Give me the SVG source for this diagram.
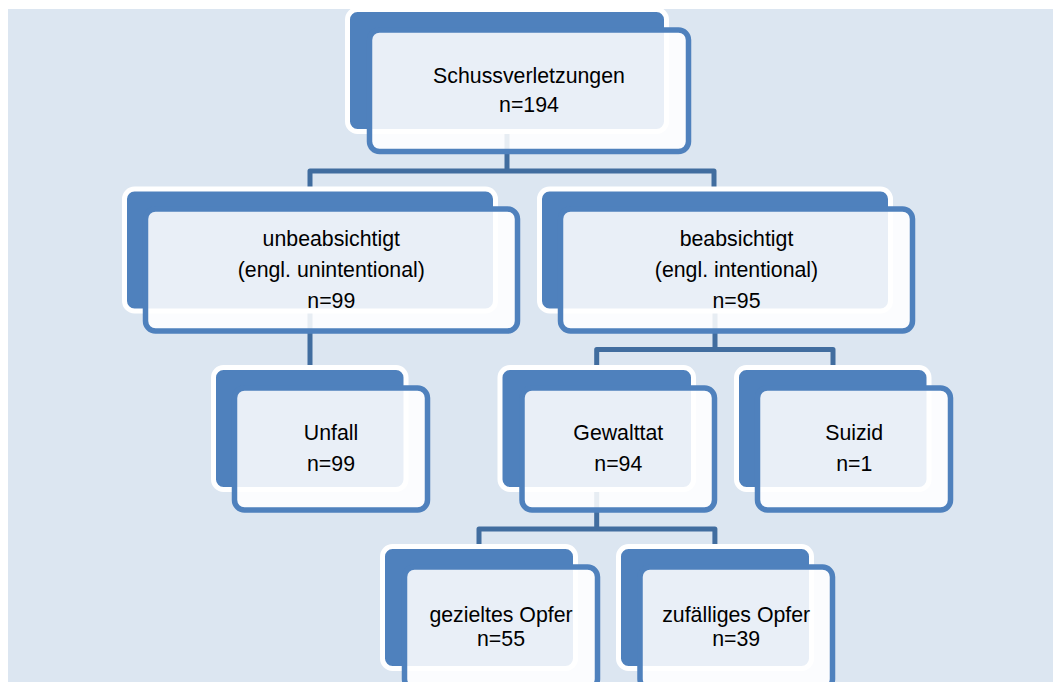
<svg xmlns="http://www.w3.org/2000/svg" width="1053" height="682" viewBox="0 0 1053 682">
<style>
.back{fill:#4f81bd;stroke:#ffffff;stroke-width:5}
.front{fill:#ffffff;fill-opacity:0.875;stroke:#4f81bd;stroke-width:5.5}
.t{font-family:"Liberation Sans",Arial,sans-serif;font-size:21.3px;fill:#000000;text-anchor:middle}
.con{fill:none;stroke:#416d9f;stroke-width:5;stroke-linejoin:round}
</style>
<rect x="0" y="0" width="1053" height="682" fill="#ffffff"/>
<rect x="8" y="9" width="1045" height="673" fill="#dce6f1"/>
<g id="connectors">
<path class="con" d="M507,131 V171 M310,190 V171 H714 V190"/>
<path class="con" d="M310,311 V368"/>
<path class="con" d="M715,311 V349.5 M596.7,368 V349.5 H833 V368"/>
<path class="con" d="M596.7,489 V529 M479,547 V529 H714.9 V547"/>
</g>
<g id="n1">
<rect class="back" x="347.5" y="9.5" width="319" height="122" rx="10"/>
<rect class="front" x="369.5" y="30" width="319" height="121.5" rx="10"/>
<text class="t" x="529" y="82.7">Schussverletzungen</text>
<text class="t" x="529" y="112.3">n=194</text>
</g>
<g id="n2">
<rect class="back" x="124.5" y="189" width="371" height="122" rx="10"/>
<rect class="front" x="145.5" y="209" width="372" height="122" rx="10"/>
<text class="t" x="331.3" y="245.7">unbeabsichtigt</text>
<text class="t" x="331.3" y="276.7">(engl. unintentional)</text>
<text class="t" x="331.3" y="307.7">n=99</text>
</g>
<g id="n3">
<rect class="back" x="539.5" y="189" width="351" height="122" rx="10"/>
<rect class="front" x="560.5" y="209" width="352" height="122" rx="10"/>
<text class="t" x="736.5" y="245.7">beabsichtigt</text>
<text class="t" x="736.5" y="276.7">(engl. intentional)</text>
<text class="t" x="736.5" y="307.7">n=95</text>
</g>
<g id="n4">
<rect class="back" x="213.5" y="367.5" width="192.5" height="122" rx="10"/>
<rect class="front" x="234.5" y="388" width="193" height="122" rx="10"/>
<text class="t" x="331" y="440">Unfall</text>
<text class="t" x="331" y="470.7">n=99</text>
</g>
<g id="n5">
<rect class="back" x="500" y="367.5" width="193.5" height="122" rx="10"/>
<rect class="front" x="522" y="388" width="192.5" height="122" rx="10"/>
<text class="t" x="618.3" y="440">Gewalttat</text>
<text class="t" x="618.3" y="470.7">n=94</text>
</g>
<g id="n6">
<rect class="back" x="736.5" y="367.5" width="192.5" height="122" rx="10"/>
<rect class="front" x="757.5" y="388" width="193" height="122" rx="10"/>
<text class="t" x="854.2" y="440">Suizid</text>
<text class="t" x="854.2" y="470.7">n=1</text>
</g>
<g id="n7">
<rect class="back" x="382.5" y="546.5" width="193" height="122" rx="10"/>
<rect class="front" x="404.5" y="567" width="193" height="122" rx="10"/>
<text class="t" x="501" y="621.5">gezieltes Opfer</text>
<text class="t" x="501" y="646">n=55</text>
</g>
<g id="n8">
<rect class="back" x="618.5" y="546.5" width="193" height="122" rx="10"/>
<rect class="front" x="640" y="567" width="192.5" height="122" rx="10"/>
<text class="t" x="736.2" y="621.5">zufälliges Opfer</text>
<text class="t" x="736.2" y="646">n=39</text>
</g>
</svg>
